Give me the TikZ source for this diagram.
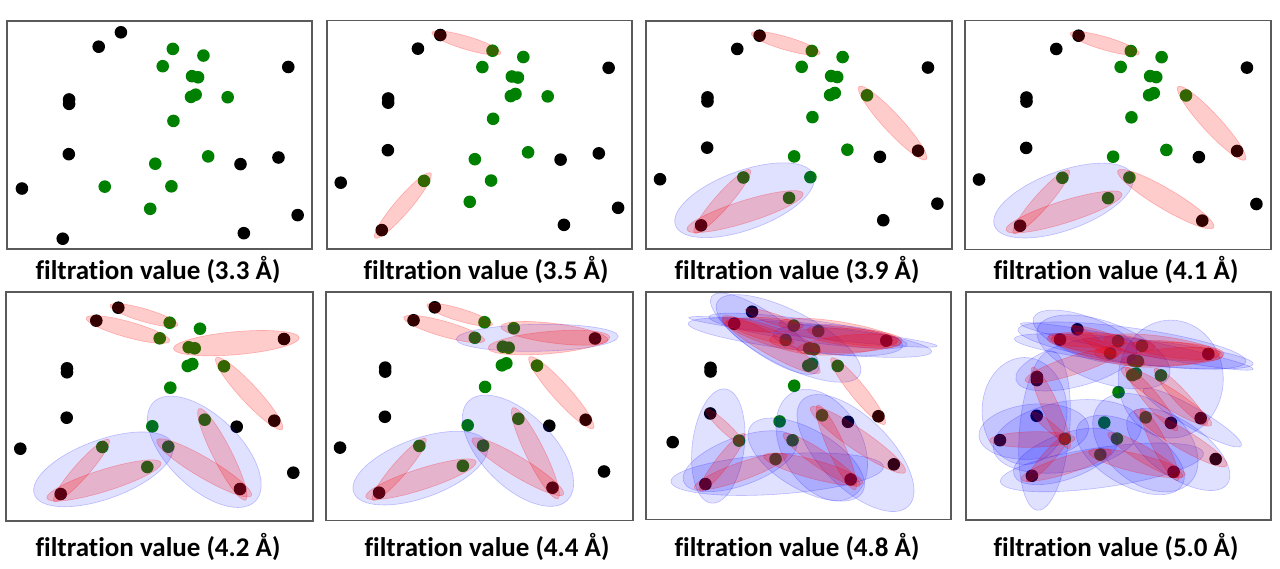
\documentclass[tikz,border=0pt]{standalone}
\usepackage{fontspec}
\setmainfont[Ligatures=NoCommon]{Carlito}
\usetikzlibrary{shapes.geometric,calc}
\definecolor{dotgreen}{HTML}{008000}
\definecolor{framegray}{HTML}{5A5A5A}

\tikzset{
  atom/.style={circle, inner sep=0pt, minimum size=12.6pt, fill=black},
  guest/.style={atom, fill=dotgreen},
  bondshape/.style={ellipse, inner sep=0pt, fill=red, fill opacity=.2,
    draw=red, draw opacity=.25, line width=.6pt},
  faceshape/.style={ellipse, inner sep=0pt, fill=blue, fill opacity=.12,
    draw=blue, draw opacity=.22, line width=.6pt},
  panelframe/.style={draw=framegray, line width=1.2pt},
  caption/.style={font=\fontsize{27}{31}\selectfont\bfseries, anchor=base, inner sep=0pt}
}

% panel origin and stretch
\newcommand\setpanel[4]{\def\ox{#1}\def\oy{#2}\def\sx{#3}\def\sy{#4}}
\newcommand\atom[4][atom]{\node[#1] (#2) at ({\ox+\sx*#3},{\oy+\sy*#4}) {};}
\newcommand\atoms{%
  \atom{A}{112.3}{15.7} \atom{B}{90.3}{28.7} \atom{C}{278}{47}
  \atom{D1}{61}{76.3} \atom{D2}{61}{80.3} \atom{E}{60.7}{125.7}
  \atom{F}{230.7}{134.7} \atom{G}{268.3}{128.7} \atom{H}{14.3}{156.7}
  \atom{I}{287.3}{180.7} \atom{J}{54.7}{202} \atom{K}{234}{197}
  \atom[guest]{g1}{163.7}{30.7} \atom[guest]{g2}{194}{36.7}
  \atom[guest]{g3}{153.7}{46.3} \atom[guest]{g4}{182.7}{55.3}
  \atom[guest]{g5}{188.7}{56.3} \atom[guest]{g6}{181.7}{74}
  \atom[guest]{g7}{186.3}{72} \atom[guest]{g8}{218}{74.3}
  \atom[guest]{g9}{164.3}{95.7} \atom[guest]{g10}{198.7}{127.7}
  \atom[guest]{g11}{146.3}{134.3} \atom[guest]{g12}{96.3}{155}
  \atom[guest]{g13}{162.3}{154.7} \atom[guest]{g14}{141.3}{175}}
% red ellipse over two atoms
\newcommand\bond[2]{%
  \path let \p1=(#1.center), \p2=(#2.center),
        \n1={atan2(\y2-\y1,\x2-\x1)}, \n2={veclen(\x2-\x1,\y2-\y1)}
    in node[bondshape, minimum width=1.32*\n2, minimum height=.24*\n2, rotate=\n1]
      (#1-#2) at ($(\p1)!.5!(\p2)$) {};}
% blue ellipse round three atoms
\newcommand\face[6]{%
  \path let \p1=(#1.center), \p2=(#2.center), \p3=(#3.center)
    in node[faceshape, minimum width=#5pt, minimum height=#6pt, rotate=#4]
      (#1-#2-#3) at ({(\x1+\x2+\x3)/3},{(\y1+\y2+\y3)/3}) {};}

\begin{document}
\begin{tikzpicture}[x=1pt, y=-1pt]
  \useasboundingbox (0,0) rectangle (1280,569);
  \fill [white] (0,0) rectangle (1280,569);

  % 3.3
  \draw [panelframe] (7,21) rectangle (312,249);
  \setpanel{7.5}{14.9}{1.01}{1.108}
  \atoms
  \node[caption] (cap1) at (158,280) {filtration value (3.3 Å)};

  % 3.5
  \draw [panelframe] (327,20.5) rectangle (632,249);
  \setpanel{326.2}{18.6}{1.016}{1.047}
  \atoms
  \bond{A}{g1} \bond{J}{g12}
  \node[caption] (cap2) at (486,280) {filtration value (3.5 Å)};

  % 3.9
  \draw [panelframe] (646,21) rectangle (952,249);
  \setpanel{645.5}{19.7}{1.016}{1.018}
  \atoms
  \face{J}{g12}{g14}{20}{147}{59}
  \bond{A}{g1} \bond{g8}{G} \bond{J}{g12} \bond{J}{g14}
  \node[caption] (cap3) at (797,280) {filtration value (3.9 Å)};

  % 4.1
  \draw [panelframe] (965,20.5) rectangle (1271,249.5);
  \setpanel{964.5}{19.7}{1.016}{1.02}
  \atoms
  \face{J}{g12}{g14}{20}{147}{59}
  \bond{A}{g1} \bond{g8}{G} \bond{J}{g12} \bond{J}{g14} \bond{g13}{K}
  \node[caption] (cap4) at (1116,280) {filtration value (4.1 Å)};

  % 4.2
  \draw [panelframe] (6,292) rectangle (313,521);
  \setpanel{6}{292}{1}{1}
  \atoms
  \face{J}{g12}{g14}{20}{147}{59}
  \face{g13}{g10}{K}{-44}{142}{72}
  \bond{A}{g1} \bond{B}{g3} \bond{g4}{C} \bond{g8}{G}
  \bond{J}{g12} \bond{J}{g14} \bond{g13}{K} \bond{g10}{K}
  \node[caption] (cap5) at (158,556) {filtration value (4.2 Å)};

  % 4.4
  \draw [panelframe] (326,292) rectangle (633,520.5);
  \setpanel{326.2}{291.7}{.967}{.995}
  \atoms
  \face{J}{g12}{g14}{20}{142}{59}
  \face{g13}{g10}{K}{-45}{140}{72}
  \face{g2}{g4}{C}{1}{162}{27}
  \bond{A}{g1} \bond{B}{g3} \bond{g2}{C} \bond{g4}{C} \bond{g8}{G}
  \bond{J}{g12} \bond{J}{g14} \bond{g13}{K} \bond{g10}{K}
  \node[caption] (cap6) at (487,556) {filtration value (4.4 Å)};

  % 4.8
  \draw [panelframe] (646,292) rectangle (951,519.5);
  \setpanel{661.1}{297.2}{.81}{.925}
  \atoms
  \face{E}{J}{g12}{83}{115}{52}
  \face{J}{g14}{K}{4}{213}{40}
  \face{J}{g12}{g14}{20}{120}{48}
  \face{g13}{g10}{K}{-60}{120}{80}
  \face{g10}{K}{I}{-45}{150}{70}
  \face{g14}{g13}{K}{-30}{130}{60}
  \face{B}{g2}{C}{-6.5}{250}{12}
  \face{B}{g4}{C}{-6.6}{245}{28}
  \face{B}{g1}{g8}{-27}{160}{55}
  \face{A}{B}{g6}{-35}{130}{40}
  \face{g2}{g4}{C}{-5}{130}{30}
  \face{A}{g3}{C}{-8}{200}{22}
  \bond{A}{g1} \bond{B}{g1} \bond{B}{g3} \bond{B}{g6} \bond{B}{g4}
  \bond{g1}{C} \bond{g2}{C} \bond{g4}{C} \bond{g3}{C} \bond{g8}{G}
  \bond{E}{g12} \bond{J}{g12} \bond{J}{g14} \bond{g14}{K}
  \bond{g13}{K} \bond{g10}{K} \bond{g10}{I}
  \node[caption] (cap7) at (797,556) {filtration value (4.8 Å)};

  % 5.0
  \draw [panelframe] (966,292) rectangle (1271,520);
  \setpanel{988.7}{317}{.79}{.786}
  \atoms
  \face{D1}{E}{H}{90}{107}{85}
  \face{D1}{J}{g12}{85}{160}{50}
  \face{H}{E}{g12}{5}{110}{55}
  \face{D1}{B}{g6}{15}{125}{45}
  \face{g4}{C}{F}{90}{118}{105}
  \face{g13}{g10}{K}{-40}{120}{80}
  \face{g10}{K}{I}{-35}{120}{55}
  \face{J}{g14}{K}{8}{205}{40}
  \face{J}{g12}{g14}{20}{110}{45}
  \face{g8}{G}{I}{-30}{113}{20}
  \face{B}{g2}{C}{-11}{237}{15}
  \face{B}{g4}{C}{-6}{240}{25}
  \face{A}{B}{g1}{-20}{110}{40}
  \face{B}{g1}{g6}{-20}{140}{60}
  \face{g14}{g13}{K}{-30}{120}{60}
  \face{A}{g3}{C}{-8}{230}{35}
  \face{E}{g12}{g14}{10}{150}{70}
  \bond{A}{g1} \bond{A}{g3} \bond{B}{g1} \bond{B}{g3} \bond{B}{g4}
  \bond{B}{g2} \bond{g1}{C} \bond{g2}{C} \bond{g3}{C} \bond{g4}{C}
  \bond{D1}{g3} \bond{D1}{g12} \bond{E}{g12} \bond{H}{g12} \bond{J}{g12}
  \bond{J}{g14} \bond{g14}{K} \bond{g13}{K} \bond{g10}{K}
  \bond{g10}{I} \bond{g8}{G} \bond{g6}{G} \bond{g6}{F}
  \node[caption] (cap8) at (1116,556) {filtration value (5.0 Å)};
\end{tikzpicture}
\end{document}
